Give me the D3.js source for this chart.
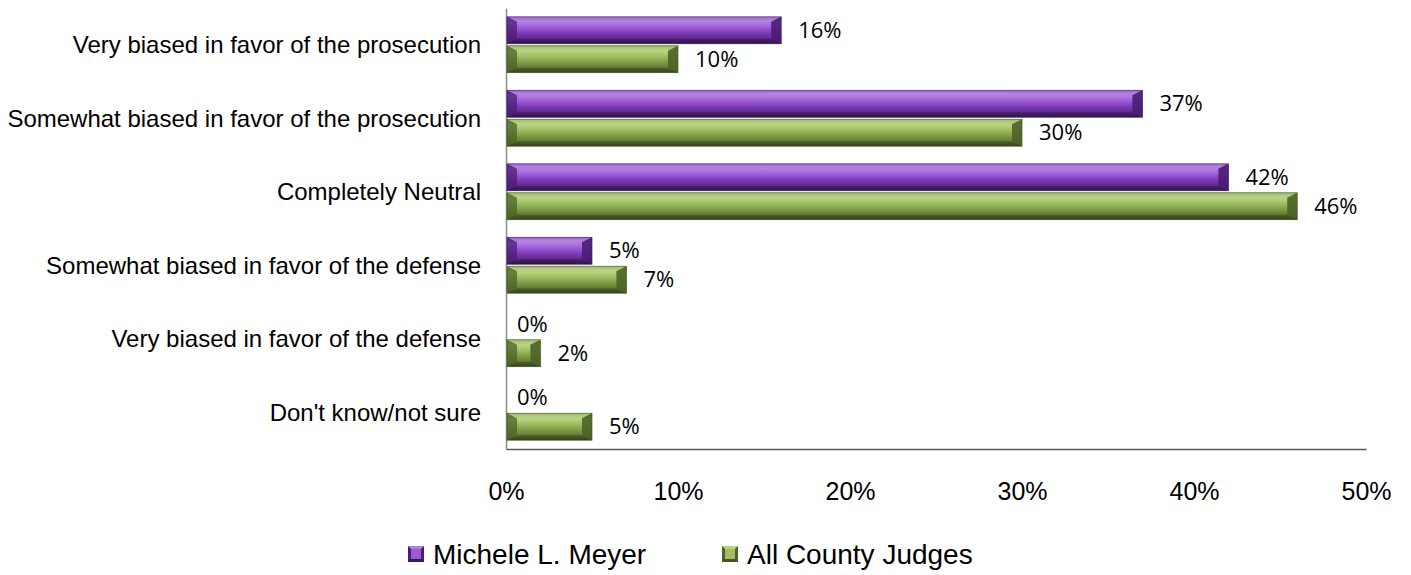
<!DOCTYPE html>
<html><head><meta charset="utf-8">
<script src="https://cdn.jsdelivr.net/npm/d3@7"></script>
<style>body{margin:0;background:#fff}svg{display:block}</style>
</head><body>
<svg id="c" width="1411" height="575"></svg>
<script>
const categories = ["Very biased in favor of the prosecution","Somewhat biased in favor of the prosecution","Completely Neutral","Somewhat biased in favor of the defense","Very biased in favor of the defense","Don't know/not sure"];
const seriesNames = ["Michele L. Meyer","All County Judges"];
const meyerValues = [16,37,42,5,0,0];
const allJudgesValues = [10,30,46,7,2,5];
const tickValues = [0,10,20,30,40,50];

const svg = d3.select("#c");
const m = {left:506, right:1366, top:8, bottom:449};
const x = d3.scaleLinear().domain([0,50]).range([m.left,m.right]);
const y = d3.scaleBand().domain(categories).range([m.top,m.bottom]).paddingInner(0.24).paddingOuter(0.12);
const ys = d3.scaleBand().domain(seriesNames).range([0,y.bandwidth()]).paddingInner(0.07);

const pal = [
  {id:"gp", stops:["#8b47c6","#b07de0","#9c5bd6","#7b38b4","#5a2688","#40175f"], edge:"#3d1760", cap:"#4a1d74"},
  {id:"gg", stops:["#8daa52","#b9d27f","#a1bd63","#7f9a45","#5e7630","#435620"], edge:"#3f5220", cap:"#4c6227"}
];
const defs = svg.append("defs");
pal.forEach(p=>{
  const g = defs.append("linearGradient").attr("id",p.id).attr("x1",0).attr("y1",0).attr("x2",0).attr("y2",1);
  const offs=[0,0.22,0.4,0.62,0.85,1];
  p.stops.forEach((c,i)=>g.append("stop").attr("offset",offs[i]).attr("stop-color",c));
});

// axes
const xAxis = d3.axisBottom(x).tickValues(tickValues).tickFormat(d=>d+"%").tickSize(0).tickPadding(0);
const gx = svg.append("g").attr("transform",`translate(0,${m.bottom})`).call(xAxis);
gx.select(".domain").attr("stroke","#595959").attr("stroke-width",1.5);
gx.selectAll("text").attr("dy",null).attr("y",51).attr("font-family","Liberation Sans, Arial, sans-serif").attr("font-size",25).attr("fill","#000");

const yAxis = d3.axisLeft(y).tickSize(0).tickPadding(25);
const gy = svg.append("g").attr("transform",`translate(${m.left},0)`).call(yAxis);
gy.select(".domain").attr("stroke","#8c8c8c").attr("stroke-width",1.5);
gy.selectAll("text").attr("font-family","Liberation Sans, Arial, sans-serif").attr("font-size",24).attr("fill","#000").attr("dy","0.35em");

const series = [meyerValues, allJudgesValues];
function bevelBar(g, x0, x1, y0, h, p){
  const w = x1-x0;
  if (w<=0) return;
  const b = Math.min(5, h/2), bw = Math.min(10, w/2);
  g.append("rect").attr("x",x0).attr("y",y0).attr("width",w).attr("height",h).attr("fill",`url(#${p.id})`);
  g.append("polygon").attr("points",[[x0,y0],[x1,y0],[x1-bw,y0+b],[x0+bw,y0+b]].join(" ")).attr("fill","#fff").attr("opacity",0.18);
  g.append("polygon").attr("points",[[x0,y0+h],[x1,y0+h],[x1-bw,y0+h-b],[x0+bw,y0+h-b]].join(" ")).attr("fill","#000").attr("opacity",0.22);
  g.append("polygon").attr("points",[[x0,y0],[x0+bw,y0+b],[x0+bw,y0+h-b],[x0,y0+h]].join(" ")).attr("fill",p.cap).attr("opacity",0.75);
  g.append("polygon").attr("points",[[x1,y0],[x1-bw,y0+b],[x1-bw,y0+h-b],[x1,y0+h]].join(" ")).attr("fill",p.cap).attr("opacity",0.9);
  g.append("rect").attr("x",x0).attr("y",y0).attr("width",w).attr("height",h).attr("fill","none").attr("stroke",p.edge).attr("stroke-width",0.8).attr("opacity",0.8);
}

seriesNames.forEach((s,si)=>{
  const g = svg.append("g");
  categories.forEach((c,ci)=>{
    const v = series[si][ci];
    const y0 = y(c)+ys(s);
    bevelBar(g, x(0)+1, x(v), y0, ys.bandwidth(), pal[si]);
    g.append("text").attr("x",x(v)+(v>0?17:11)).attr("y",y0+ys.bandwidth()/2).attr("dy","0.35em")
      .attr("font-family","Open Sans, Carlito, Calibri, sans-serif").attr("font-size",22).attr("fill","#000").text(v+"%");
  });
});

// legend
const leg = svg.append("g");
const legX = [408, 722];
seriesNames.forEach((s,si)=>{
  const p = pal[si];
  const lx = legX[si], ly = 546, sz = 16;
  const lg = leg.append("g");
  lg.append("rect").attr("x",lx).attr("y",ly).attr("width",sz).attr("height",sz).attr("fill",p.cap);
  lg.append("polygon").attr("points",[[lx,ly],[lx+sz,ly],[lx+sz/2,ly+sz/2]].join(" ")).attr("fill",p.stops[1]);
  lg.append("polygon").attr("points",[[lx,ly+sz],[lx+sz,ly+sz],[lx+sz/2,ly+sz/2]].join(" ")).attr("fill",p.stops[5]);
  lg.append("rect").attr("x",lx+3).attr("y",ly+3).attr("width",sz-6).attr("height",sz-6).attr("fill",p.stops[2]);
  lg.append("text").attr("x",lx+sz+9).attr("y",ly+sz/2).attr("dy","0.35em")
    .attr("font-family","Liberation Sans, Arial, sans-serif").attr("font-size",28).attr("fill","#000").text(s);
});
</script>
</body></html>
